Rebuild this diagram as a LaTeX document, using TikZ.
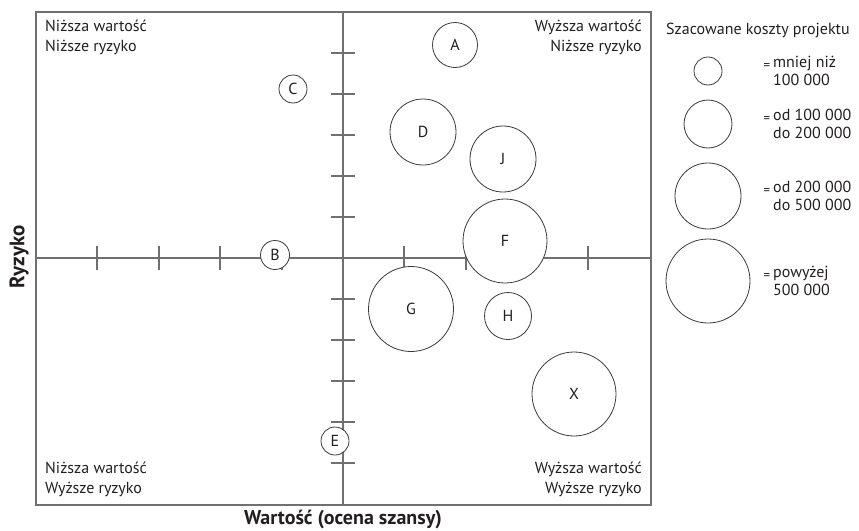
\documentclass[tikz,border=0pt]{standalone}
\usepackage{fontspec}
\setmainfont{PT Sans}
\definecolor{axisgray}{HTML}{707070}
\definecolor{circgray}{HTML}{3A3A3A}
\definecolor{txt}{HTML}{231F20}
\begin{document}
\begin{tikzpicture}[x=1pt,y=-1pt,
  every node/.style={text=txt},
  bub/.style={circle,draw=circgray,line width=0.8pt,inner sep=0pt,minimum size=#1,font=\fontsize{16}{16}\selectfont},
  axisline/.style={draw=axisgray,line width=1.2pt},
  tick/.style={draw=axisgray,line width=1.1pt},
  corner/.style={font=\fontsize{16}{20}\selectfont,inner sep=0pt},
  legtxt/.style={font=\fontsize{16}{18}\selectfont,inner sep=0pt,anchor=west,align=left},
  eq/.style={font=\fontsize{13}{13}\selectfont,inner sep=0pt}]
\useasboundingbox (0,0) rectangle (859,530);
% frame
\coordinate (tl) at (36,12);
\coordinate (br) at (651,505);
\draw[axisline] (tl) rectangle (br);
% axes
\coordinate (xl) at (36,258);
\coordinate (xr) at (651,258);
\coordinate (yt) at (343,12);
\coordinate (yb) at (343,505);
\draw[axisline] (xl) -- (xr);
\draw[axisline] (yt) -- (yb);
% ticks
\foreach \x in {97,159,220,282,404,466,527,588}
  \draw[tick] (\x,246) -- (\x,270);
\foreach \y in {53,94,135,176,217,299,340,381,422,463}
  \draw[tick] (331,\y) -- (355,\y);
% bubbles
\node[bub=45pt,fill=white] (A) at (455,45) {A};
\node[bub=28pt,fill=white] (C) at (293,89) {C};
\node[bub=66pt,fill=white] (D) at (423,132) {D};
\node[bub=66pt,fill=white] (J) at (503,159) {J};
\node[bub=84pt,fill=white] (F) at (505,241) {F};
\node[bub=29pt,fill=white] (B) at (275,255) {B};
\node[bub=85pt,fill=white] (G) at (411,309) {G};
\node[bub=47pt,fill=white] (H) at (508,316) {H};
\node[bub=84pt,fill=white] (X) at (574,394) {X};
\node[bub=28pt,fill=white] (E) at (335,441) {E};
% corner texts
\node[corner,anchor=north west,align=left] (q1) at (45,20) {Niższa wartość\\Niższe ryzyko};
\node[corner,anchor=north east,align=right] (q2) at (642,20) {Wyższa wartość\\Niższe ryzyko};
\node[corner,anchor=south west,align=left] (q3) at (45,497) {Niższa wartość\\Wyższe ryzyko};
\node[corner,anchor=south east,align=right] (q4) at (642,497) {Wyższa wartość\\Wyższe ryzyko};
% axis titles
\node[font=\bfseries\fontsize{21}{21}\selectfont,rotate=90] (ry) at (19,257) {Ryzyko};
\node[font=\bfseries\fontsize{20}{20}\selectfont,inner sep=1pt] (wa) at (343,519) {Wartość (ocena szansy)};
% legend
\node[font=\fontsize{16}{16}\selectfont,anchor=west,inner sep=0pt] (lt) at (666,30) {Szacowane koszty projektu};
\node[bub=28pt] (l1) at (708,71) {};
\node[bub=48pt] (l2) at (708,124) {};
\node[bub=66pt] (l3) at (708,196) {};
\node[bub=84pt] (l4) at (708,281) {};
\node[eq] (e1) at (767,67) {=};
\node[eq] (e2) at (767,120) {=};
\node[eq] (e3) at (767,192) {=};
\node[eq] (e4) at (767,277) {=};
\node[legtxt] (t1) at (773,71) {mniej niż\\100 000};
\node[legtxt] (t2) at (773,124) {od 100 000\\do 200 000};
\node[legtxt] (t3) at (773,196) {od 200 000\\do 500 000};
\node[legtxt] (t4) at (773,281) {powyżej\\500 000};
\end{tikzpicture}
\end{document}
